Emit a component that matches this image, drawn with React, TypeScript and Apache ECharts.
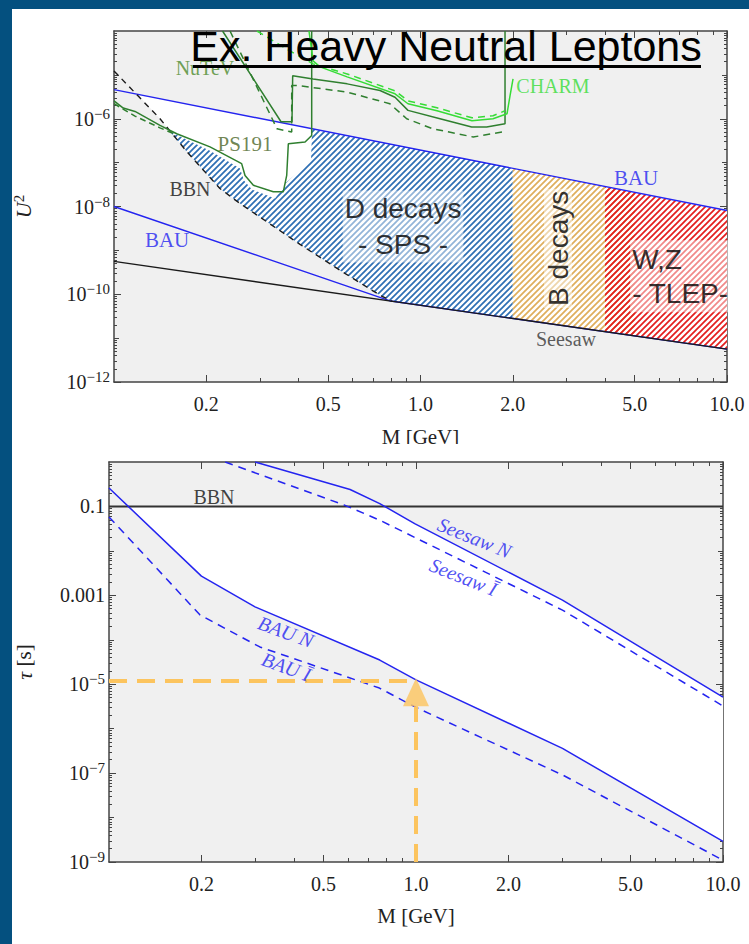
import React, { useEffect, useRef } from 'react';
import * as echarts from 'echarts';

// ---------------- tick definitions ----------------
const massTicksMajor = [0.2, 0.5, 1, 2, 5, 10];
const massTickLabels = ['0.2', '0.5', '1.0', '2.0', '5.0', '10.0'];
const massTicksMinor = [0.3, 0.4, 0.6, 0.7, 0.8, 0.9, 3, 4, 6, 7, 8, 9];
const topExpLabeled = [-12, -10, -8, -6];
const topExpPlain = [-11, -9, -7, -5];
const botExpLabeled = [-9, -7, -5, -3, -1];
const botExpPlain = [-8, -6, -4, -2];

// ---------------- top panel: [M (GeV), U^2] ----------------
const bauUpper = [[0.1, 4.6e-6], [10, 8.1e-9]];
const bauLower = [[0.1, 1e-8], [0.8, 7e-11], [10, 5.6e-12]];
const seesawTop = [[0.1, 5.6e-10], [10, 5.6e-12]];
const bbnTop = [[0.1, 1.23e-5], [0.1197, 3.33e-6], [0.1413, 1.0e-6], [0.1728, 1.78e-7], [0.2216, 2.57e-8], [0.2577, 1.17e-8], [0.4045, 1.37e-9], [0.5466, 3.5e-10], [0.7377, 9.5e-11], [0.807, 6.9e-11]];
const ps191Solid = [[0.1, 2.56e-6], [0.1072, 1.75e-6], [0.1171, 1.47e-6], [0.1413, 7.05e-7], [0.1602, 4.56e-7], [0.2057, 2.28e-7], [0.2609, 9.5e-8], [0.2676, 5.1e-8], [0.2849, 3.05e-8], [0.3309, 2.16e-8], [0.3567, 2.16e-8], [0.366, 5.1e-8], [0.3705, 2.7e-7], [0.4201, 2.95e-7], [0.4416, 4.17e-7], [0.4416, 1e-4]];
const ps191Dashed = [[0.1, 2.2e-6], [0.1171, 1.15e-6], [0.1413, 6.2e-7], [0.16, 4.3e-7]];
const nutevSolid = [[0.226, 1e-4], [0.3507, 8.55e-7], [0.3808, 8.55e-7], [0.3828, 9.6e-6], [0.4462, 8.1e-6], [0.5764, 6.24e-6], [0.7377, 4.4e-6], [0.8257, 3.1e-6], [0.9103, 1.55e-6], [1.158, 1.0e-6], [1.469, 6.5e-7], [1.644, 6.5e-7], [1.887, 7.7e-7], [1.887, 1e-4]];
const nutevDashed = [[0.2391, 1e-4], [0.3402, 5.9e-7], [0.38, 5.0e-7], [0.38, 5.7e-6], [0.3984, 5.7e-6], [0.5764, 4.05e-6], [0.7943, 2.2e-6], [0.9016, 1.0e-6], [1.098, 5.9e-7], [1.486, 3.84e-7], [1.887, 5.1e-7]];
const charmSolid = [[0.4327, 1e-4], [0.4462, 2.08e-5], [0.47, 1.52e-5], [0.5764, 9.0e-6], [0.8257, 3.7e-6], [0.9103, 2.2e-6], [1.132, 1.52e-6], [1.472, 9.0e-7], [1.724, 1.0e-6], [1.915, 1.3e-6], [1.959, 3.33e-6], [2.004, 8.1e-6]];
const charmDashed = [[0.2927, 1e-4], [0.3752, 3.5e-5], [0.4462, 1.78e-5], [0.5764, 1.05e-5], [0.8257, 4.33e-6], [0.9103, 2.56e-6], [1.132, 1.78e-6], [1.472, 1.05e-6], [1.724, 1.17e-6], [1.887, 1.52e-6]];

const allowedTop = [[0.12, 3.5e-6], [10, 8.1e-9], [10, 5.6e-12], [0.807, 6.9e-11], [0.7377, 9.5e-11], [0.5466, 3.5e-10], [0.4045, 1.37e-9], [0.2577, 1.17e-8], [0.2216, 2.57e-8], [0.1728, 1.78e-7], [0.1413, 1.0e-6]];
const dDecays = [[0.443, 5.9e-7], [2, 7.4e-8], [2, 2.8e-11], [0.807, 6.9e-11], [0.7377, 9.5e-11], [0.5466, 3.5e-10], [0.4045, 1.37e-9], [0.2577, 1.17e-8], [0.2216, 2.57e-8], [0.1728, 1.78e-7], [0.1524, 5.07e-7], [0.2057, 1.87e-7], [0.2577, 7.3e-8], [0.2655, 3.9e-8], [0.2819, 2.43e-8], [0.3352, 1.52e-8], [0.364, 3.5e-8], [0.4045, 6.6e-8], [0.4393, 1.11e-7]];
const bDecays = [[2, 7.4e-8], [5, 2.1e-8], [5, 1.12e-11], [2, 2.8e-11]];
const wzTlep = [[4, 2.86e-8], [10, 8.1e-9], [10, 5.6e-12], [4, 1.4e-11]];

// ---------------- bottom panel: [M (GeV), tau (s)] ----------------
const bbnBottom = [[0.1, 0.1], [10, 0.1]];
const bauN = [[0.1, 0.26], [0.2, 2.7e-3], [0.299, 5.5e-4], [0.762, 3.5e-5], [1.0, 1.25e-5], [3.0, 3.6e-7], [10, 2.9e-9]];
const bauI = [[0.1, 0.058], [0.198, 3.6e-4], [0.31, 6.9e-5], [0.76, 8.2e-6], [1.0, 3.0e-6], [3.0, 9.1e-8], [10, 1.1e-9]];
const seesawN = [[0.299, 1], [0.61, 0.24], [0.762, 0.116], [0.99, 0.041], [3.0, 7.8e-4], [10, 5.1e-6]];
const seesawI = [[0.239, 1], [0.587, 0.106], [0.762, 0.049], [3.0, 4.65e-4], [10, 3.24e-6]];
const allowedBottom = [[0.1162, 0.1], [0.792, 0.1], [0.99, 0.041], [3.0, 7.8e-4], [10, 5.1e-6], [10, 2.9e-9], [3.0, 3.6e-7], [1.0, 1.25e-5], [0.762, 3.5e-5], [0.299, 5.5e-4], [0.2, 2.7e-3]];
const exampleH = [[0.1, 1.18e-5], [1.0, 1.18e-5]];
const exampleV = [[1.0, 1e-9], [1.0, 3.2e-6]];
const exampleTip = [[1.0, 6.6e-6]];

// ---------------- annotations (anchor in data coords) ----------------
const topNotes = [
  { key: 'nutev', text: 'NuTeV', at: [0.198, 1.44e-5] },
  { key: 'ps191', text: 'PS191', at: [0.2675, 2.7e-7] },
  { key: 'bbn', text: 'BBN', at: [0.177, 2.56e-8] },
  { key: 'charm', text: 'CHARM', at: [2.705, 5.6e-6] },
  { key: 'bauU', text: 'BAU', at: [5.05, 4.56e-8] },
  { key: 'bauL', text: 'BAU', at: [0.149, 1.69e-9] },
  { key: 'seesaw', text: 'Seesaw', at: [2.983, 9.5e-12] },
  { key: 'dd', text: 'D decays\n- SPS -', at: [0.877, 3.5e-9] },
  { key: 'bd', text: 'B decays', at: [2.81, 1.11e-9] },
  { key: 'wz', text: 'W,Z\n- TLEP-', at: [4.83, 2.57e-10] },
];
const bottomNotes = [
  { key: 'bbn', text: 'BBN', at: [0.2198, 0.161] },
  { key: 'sN', text: 'Seesaw N', at: [1.55, 0.0198] },
  { key: 'sI', text: 'Seesaw Ī', at: [1.426, 2.6e-3] },
  { key: 'bN', text: 'BAU N', at: [0.3767, 1.51e-4] },
  { key: 'bI', text: 'BAU Ī', at: [0.3786, 2.47e-5] },
];

const SERIF = '"Liberation Serif", "DejaVu Serif", serif';
const SANS = '"Liberation Sans", Arial, sans-serif';
const AX = '#444';
const BLUE = '#2424f0';
const DKGREEN = '#2f7f2f';
const LTGREEN = '#36dc36';
const YELLOW = '#fcc45e';

function hatch(color: string, size: number, lw: number) {
  const c = document.createElement('canvas');
  c.width = size;
  c.height = size;
  const ctx = c.getContext('2d') as CanvasRenderingContext2D;
  ctx.strokeStyle = color;
  ctx.lineWidth = lw;
  ctx.lineCap = 'butt';
  ctx.beginPath();
  ctx.moveTo(-1, size + 1); ctx.lineTo(size + 1, -1);
  ctx.moveTo(-2, 2); ctx.lineTo(2, -2);
  ctx.moveTo(size - 2, size + 2); ctx.lineTo(size + 2, size - 2);
  ctx.stroke();
  return { image: c, repeat: 'repeat', imageWidth: size, imageHeight: size };
}

function minorExps(lo: number, hi: number) {
  const out: number[] = [];
  for (let e = lo; e < hi; e++) for (let k = 2; k <= 9; k++) out.push(e + Math.log10(k));
  return out;
}

function tickAxis(grid: number, min: number, max: number, position: string, ticks: number[], len: number, extra: any = {}) {
  return {
    type: 'value', gridIndex: grid, min, max, position, silent: true,
    axisLine: { show: !!extra.line, onZero: false, lineStyle: { color: AX, width: 1.5 } },
    axisTick: { show: true, inside: true, length: len, customValues: ticks, lineStyle: { color: AX, width: 1 } },
    axisLabel: extra.label ? extra.label : { show: false },
    splitLine: { show: false },
    axisPointer: { show: false },
    ...(extra.name || {}),
  };
}

const supRich = {
  b: { fontFamily: SERIF, fontSize: 20, color: '#222' },
  s: { fontFamily: SERIF, fontSize: 15, color: '#222', padding: [0, 0, 10, 0] },
};

function buildOption() {
  const blueHatch = hatch('#2e6fb4', 6, 1.7);
  const tanHatch = hatch('#dfae5c', 6, 1.7);
  const redHatch = hatch('#e41e1e', 6, 1.7);

  const xLog = (v: number[]) => v.map((m) => Math.log10(m));
  const massLabel = (v: number) => {
    const i = massTicksMajor.findIndex((m) => Math.abs(Math.log10(m) - v) < 1e-6);
    return i >= 0 ? massTickLabels[i] : '';
  };
  const xLabel = {
    show: true, margin: 12, customValues: xLog(massTicksMajor), formatter: massLabel,
    fontFamily: SERIF, fontSize: 20, color: '#222',
  };
  const xName = (gap: number) => ({
    name: 'M [GeV]', nameLocation: 'middle', nameGap: gap,
    nameTextStyle: { fontFamily: SERIF, fontSize: 21, color: '#222' },
  });
  const topYLabel = {
    show: true, margin: 4, customValues: topExpLabeled,
    formatter: (v: number) => `{b|10}{s|−${Math.abs(Math.round(v))}}`,
    rich: supRich, fontFamily: SERIF, fontSize: 20, color: '#222',
  };
  const botYLabel = {
    show: true, margin: 4, customValues: botExpLabeled,
    formatter: (v: number) => {
      const e = Math.round(v);
      if (e === -1) return '0.1';
      if (e === -3) return '0.001';
      return `{b|10}{s|−${Math.abs(e)}}`;
    },
    rich: supRich, fontFamily: SERIF, fontSize: 20, color: '#222',
  };
  const nameRich = {
    i: { fontFamily: SERIF, fontStyle: 'italic', fontSize: 22, color: '#222' },
    n: { fontFamily: SERIF, fontSize: 21, color: '#222' },
    s: { fontFamily: SERIF, fontSize: 15, color: '#222', padding: [0, 0, 10, 0] },
  };

  const xAxes: any[] = [
    { type: 'log', logBase: 10, gridIndex: 0, min: 0.1, max: 10, show: false, axisLine: { onZero: false } },
    { type: 'log', logBase: 10, gridIndex: 1, min: 0.1, max: 10, show: false, axisLine: { onZero: false } },
  ];
  const yAxes: any[] = [
    { type: 'log', logBase: 10, gridIndex: 0, min: 1e-12, max: 1e-4, show: false, axisLine: { onZero: false } },
    { type: 'log', logBase: 10, gridIndex: 1, min: 1e-9, max: 1, show: false, axisLine: { onZero: false } },
  ];
  [0, 1].forEach((g) => {
    xAxes.push(tickAxis(g, -1, 1, 'bottom', xLog(massTicksMajor), 7, { line: true, label: xLabel, name: xName(g === 0 ? 44 : 43) }));
    xAxes.push(tickAxis(g, -1, 1, 'bottom', xLog(massTicksMinor), 4));
    xAxes.push(tickAxis(g, -1, 1, 'top', xLog(massTicksMajor), 7, { line: true }));
    xAxes.push(tickAxis(g, -1, 1, 'top', xLog(massTicksMinor), 4));
    const lo = g === 0 ? -12 : -9;
    const hi = g === 0 ? -4 : 0;
    const lab = g === 0 ? topExpLabeled : botExpLabeled;
    const plain = g === 0 ? topExpPlain : botExpPlain;
    const yName = g === 0
      ? { name: '{i|U}{s|2}', nameLocation: 'middle', nameRotate: 90, nameGap: 78, nameTextStyle: { rich: nameRich } }
      : { name: '{i|τ}{n| [s]}', nameLocation: 'middle', nameRotate: 90, nameGap: 74, nameTextStyle: { rich: nameRich } };
    yAxes.push(tickAxis(g, lo, hi, 'left', lab, 7, { line: true, label: g === 0 ? topYLabel : botYLabel, name: yName }));
    yAxes.push(tickAxis(g, lo, hi, 'left', plain, 5));
    yAxes.push(tickAxis(g, lo, hi, 'left', minorExps(lo, hi), 3));
    yAxes.push(tickAxis(g, lo, hi, 'right', lab, 7, { line: true }));
    yAxes.push(tickAxis(g, lo, hi, 'right', plain, 5));
    yAxes.push(tickAxis(g, lo, hi, 'right', minorExps(lo, hi), 3));
  });

  const poly = (name: string, pts: number[][], fill: any, g: number, z: number) => ({
    type: 'custom', name, xAxisIndex: g, yAxisIndex: g, z, silent: true, clip: true,
    data: pts,
    renderItem: (params: any, api: any) => {
      if (params.dataIndex !== 0) return null;
      return { type: 'polygon', shape: { points: pts.map((p) => api.coord(p)) }, style: { fill, stroke: null } };
    },
  });
  const line = (name: string, pts: number[][], color: string, width: number, dash: any, g: number, z = 4) => ({
    type: 'line', name, data: pts, xAxisIndex: g, yAxisIndex: g, symbol: 'none', showSymbol: false,
    silent: true, z, clip: true,
    lineStyle: { color, width, type: dash || 'solid' },
  });

  const serifLbl = (color: string, size = 20, extra: any = {}) => ({ fontFamily: SERIF, fontSize: size, color, ...extra });
  const topStyles: Record<string, any> = {
    nutev: serifLbl('#4b8a2c'),
    ps191: serifLbl('#4a6526', 21),
    bbn: serifLbl('#111', 20),
    charm: serifLbl(LTGREEN, 20),
    bauU: serifLbl(BLUE, 21),
    bauL: serifLbl(BLUE, 21),
    seesaw: serifLbl('#333', 20),
    dd: { fontFamily: SANS, fontSize: 28, color: '#000', lineHeight: 36, align: 'center', backgroundColor: 'rgba(255,255,255,0.6)', padding: [0, 2, 0, 2] },
    bd: { fontFamily: SANS, fontSize: 28, color: '#000', rotate: 90, backgroundColor: 'rgba(255,255,255,0.6)', padding: [0, 2, 0, 2] },
    wz: { fontFamily: SANS, fontSize: 28, color: '#000', lineHeight: 34, align: 'left', backgroundColor: 'rgba(255,255,255,0.6)', padding: [2, 2, 2, 2] },
  };
  const botStyles: Record<string, any> = {
    bbn: serifLbl('#111', 20),
    sN: serifLbl(BLUE, 20, { fontStyle: 'italic', rotate: -22 }),
    sI: serifLbl(BLUE, 20, { fontStyle: 'italic', rotate: -22 }),
    bN: serifLbl(BLUE, 20, { fontStyle: 'italic', rotate: -20 }),
    bI: serifLbl(BLUE, 20, { fontStyle: 'italic', rotate: -20 }),
  };
  const notes = (items: any[], styles: Record<string, any>, g: number) => ({
    type: 'scatter', xAxisIndex: g, yAxisIndex: g, symbolSize: 1, z: 10, silent: true,
    itemStyle: { color: 'rgba(0,0,0,0)' },
    data: items.map((it) => ({
      value: it.at,
      label: { show: true, position: 'inside', formatter: it.text, ...styles[it.key] },
    })),
  });

  const series: any[] = [
    // top panel
    poly('allowed', allowedTop, '#ffffff', 0, 1),
    poly('D decays', dDecays, blueHatch, 0, 2),
    poly('B decays', bDecays, tanHatch, 0, 2),
    poly('W,Z TLEP', wzTlep, redHatch, 0, 2),
    line('BAU upper', bauUpper, BLUE, 1.4, null, 0),
    line('BAU lower', bauLower, BLUE, 1.4, null, 0),
    line('Seesaw', seesawTop, '#1a1a1a', 1.4, null, 0, 5),
    line('BBN', bbnTop, '#1a1a1a', 1.4, [6, 5], 0),
    line('PS191', ps191Solid, DKGREEN, 1.5, null, 0),
    line('PS191 dashed', ps191Dashed, DKGREEN, 1.5, [6, 4], 0),
    line('NuTeV', nutevSolid, DKGREEN, 1.5, null, 0),
    line('NuTeV dashed', nutevDashed, DKGREEN, 1.5, [7, 5], 0),
    line('CHARM', charmSolid, LTGREEN, 1.5, null, 0),
    line('CHARM dashed', charmDashed, LTGREEN, 1.5, [7, 5], 0),
    notes(topNotes, topStyles, 0),
    // bottom panel
    poly('allowed τ', allowedBottom, '#ffffff', 1, 1),
    line('BBN τ', bbnBottom, '#333', 2, null, 1),
    line('BAU N', bauN, BLUE, 1.5, null, 1),
    line('BAU I', bauI, BLUE, 1.5, [8, 6], 1),
    line('Seesaw N', seesawN, BLUE, 1.5, null, 1),
    line('Seesaw I', seesawI, BLUE, 1.5, [8, 6], 1),
    line('example τ', exampleH, YELLOW, 4, [18, 10], 1, 6),
    line('example M', exampleV, YELLOW, 4, [18, 10], 1, 6),
    {
      type: 'scatter', name: 'arrow', xAxisIndex: 1, yAxisIndex: 1, z: 6, silent: true,
      symbol: 'triangle', symbolSize: [26, 28], itemStyle: { color: YELLOW }, data: exampleTip,
    },
    notes(bottomNotes, botStyles, 1),
  ];

  return {
    animation: false,
    backgroundColor: 'transparent',
    grid: [
      { left: 114, top: 31, width: 613, height: 351, show: true, backgroundColor: '#f0f0f0', borderWidth: 0 },
      { left: 109, top: 462, width: 614, height: 400, show: true, backgroundColor: '#f0f0f0', borderWidth: 0 },
    ],
    xAxis: xAxes,
    yAxis: yAxes,
    series,
    graphic: [
      { type: 'rect', z: 100, silent: true, shape: { x: 330, y: 444, width: 180, height: 14 }, style: { fill: '#ffffff' } },
      {
        type: 'text', z: 100, silent: true, x: 446, y: 46,
        style: { text: 'Ex. Heavy Neutral Leptons', fontFamily: SANS, fontSize: 43, fill: '#000', align: 'center', verticalAlign: 'middle', textAlign: 'center', textVerticalAlign: 'middle' },
      },
      { type: 'line', z: 100, silent: true, shape: { x1: 193, y1: 66.5, x2: 701, y2: 66.5 }, style: { stroke: '#000', lineWidth: 3 } },
    ],
  };
}

export default function App() {
  const ref = useRef<HTMLDivElement>(null);
  useEffect(() => {
    if (!ref.current) return;
    const chart = echarts.init(ref.current, null, { renderer: 'svg', width: 749, height: 944 });
    chart.setOption(buildOption() as any);
    return () => chart.dispose();
  }, []);
  return (
    <div style={{ position: 'absolute', left: 0, top: 0, width: 749, height: 944, background: '#04507f', overflow: 'hidden' }}>
      <div style={{ position: 'absolute', left: 12, top: 9, right: 0, bottom: 0, background: '#ffffff' }} />
      <div ref={ref} style={{ position: 'absolute', left: 0, top: 0, width: 749, height: 944 }} />
    </div>
  );
}
